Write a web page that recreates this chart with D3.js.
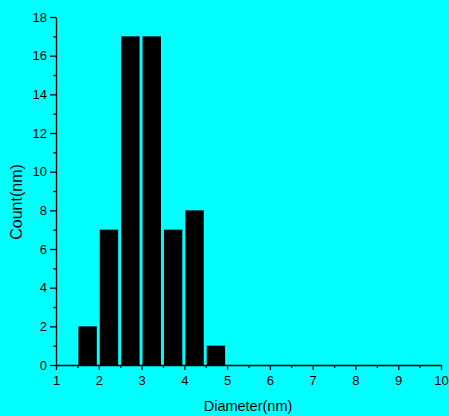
<!DOCTYPE html>
<html>
<head>
<meta charset="utf-8">
<script src="https://cdn.jsdelivr.net/npm/d3@7"></script>
<style>
  html, body { margin: 0; padding: 0; background: #00ffff; }
  svg { display: block; font-family: Arial, 'Liberation Sans', sans-serif; }
  .tick text { font-size: 13px; fill: #000; }
  .axis-title { fill: #000; }
</style>
</head>
<body>
<svg width="449" height="416"></svg>
<script>
// Histogram data: bin starts (nm) and counts
var binStarts = [1.5, 2.0, 2.5, 3.0, 3.5, 4.0, 4.5];
var counts = [2, 7, 17, 17, 7, 8, 1];
var binWidth = 0.5;

var xMajor = [1, 2, 3, 4, 5, 6, 7, 8, 9, 10];
var yMajor = [0, 2, 4, 6, 8, 10, 12, 14, 16, 18];

var svg = d3.select('svg');
var svgWidth = +svg.attr('width');
var svgHeight = +svg.attr('height');

svg.append('rect')
    .attr('width', svgWidth)
    .attr('height', svgHeight)
    .attr('fill', '#00ffff');

var padding = {t: 17, r: 8, b: 51, l: 56};

var x = d3.scaleLinear().domain([1, 10]).range([padding.l, svgWidth - padding.r]);
var y = d3.scaleLinear().domain([0, 18]).range([svgHeight - padding.b, padding.t]);

// bars
svg.append('g')
    .selectAll('rect')
    .data(binStarts)
    .enter()
    .append('rect')
    .attr('x', function(d){ return x(d) + 1; })
    .attr('width', function(d){ return x(d + binWidth) - x(d) - 3; })
    .attr('y', function(d, i){ return y(counts[i]); })
    .attr('height', function(d, i){ return y(0) - y(counts[i]); })
    .attr('fill', '#000');

// minor ticks
var xMinor = d3.range(1.5, 10, 1);
var yMinor = d3.range(1, 18, 2);

svg.append('g')
    .attr('transform', 'translate(0,' + y(0) + ')')
    .call(d3.axisBottom(x).tickValues(xMajor).tickSize(5).tickSizeOuter(0).tickPadding(6).tickFormat(d3.format('d')));
svg.append('g')
    .attr('transform', 'translate(0,' + y(0) + ')')
    .call(d3.axisBottom(x).tickValues(xMinor).tickSize(3).tickSizeOuter(0).tickFormat(''))
    .select('.domain').remove();

svg.append('g')
    .attr('transform', 'translate(' + x(1) + ',0)')
    .call(d3.axisLeft(y).tickValues(yMajor).tickSize(6).tickSizeOuter(0).tickPadding(3).tickFormat(d3.format('d')));
svg.append('g')
    .attr('transform', 'translate(' + x(1) + ',0)')
    .call(d3.axisLeft(y).tickValues(yMinor).tickSize(3).tickSizeOuter(0).tickFormat(''))
    .select('.domain').remove();

svg.selectAll('.domain, .tick line')
    .attr('stroke', '#000')
    .attr('stroke-width', 1.3);
svg.selectAll('.tick text').attr('font-size', null);

// axis titles
svg.append('text')
    .attr('class', 'axis-title')
    .attr('text-anchor', 'middle')
    .style('font-size', '14.5px')
    .attr('x', 248)
    .attr('y', 411)
    .text('Diameter(nm)');
svg.append('text')
    .attr('class', 'axis-title')
    .attr('text-anchor', 'middle')
    .style('font-size', '16px')
    .attr('transform', 'translate(22,202) rotate(-90)')
    .text('Count(nm)');
</script>
</body>
</html>
